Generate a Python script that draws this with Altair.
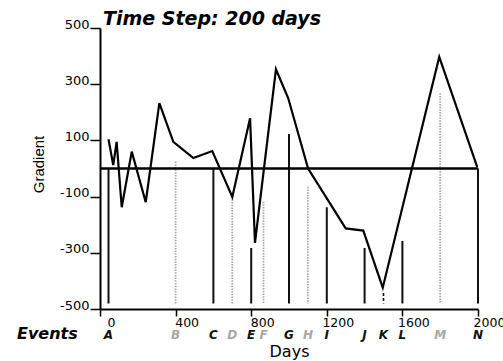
import altair as alt
import pandas as pd

# Gradient curve: day of observation and gradient value
series_days = [45, 70, 88, 115, 168, 242, 314, 388, 494, 594, 700, 794, 820,
               931, 996, 1101, 1300, 1393, 1496, 1795, 1996]
series_grad = [104, 12, 95, -138, 60, -120, 233, 95, 37, 62, -101, 179, -265,
               353, 250, 0, -213, -221, -424, 397, 5]

# Events: name, day, upper end of the marker line and event kind
event_names = ["A", "B", "C", "D", "E", "F", "G", "H", "I", "J", "K", "L", "M", "N"]
event_days = [45, 400, 600, 700, 800, 865, 1000, 1100, 1200, 1400, 1500, 1600, 1800, 2000]
event_tops = [0, 25, 0, -100, -283, -118, 123, -65, -138, -283, -443, -258, 268, 0]
event_kind = ["confirmed", "tentative", "confirmed", "tentative", "confirmed",
              "tentative", "confirmed", "tentative", "confirmed", "confirmed",
              "partial", "confirmed", "tentative", "confirmed"]
event_floor = -480

# Axis tick positions
x_ticks = list(range(0, 2001, 100))
y_ticks = list(range(-500, 501, 50))

series = pd.DataFrame({"day": series_days, "gradient": series_grad})
events = pd.DataFrame({
    "name": event_names,
    "day": event_days,
    "top": event_tops,
    "floor": [event_floor] * len(event_names),
    "kind": event_kind,
})
single = pd.DataFrame({"row": [0]})

x_scale = alt.Scale(domain=[0, 2000], nice=False, zero=False)
y_scale = alt.Scale(domain=[-500, 500], nice=False, zero=False)

kinds = ["confirmed", "tentative", "partial"]
kind_color = alt.Scale(domain=kinds, range=["#111111", "#a8a8a8", "#111111"])
kind_dash = alt.Scale(domain=kinds, range=[[1, 0], [1.5, 1.2], [3, 2]])
kind_width = alt.Scale(domain=kinds, range=[2, 1.6, 2])

x_axis = alt.Axis(
    values=x_ticks,
    labelExpr="datum.value % 400 == 0 ? '' + datum.value : ''",
    tickSize={"condition": {"test": "datum.value % 400 == 0", "value": 7}, "value": 3},
    labelOffset=11,
    labelPadding=0,
    labelFlush=False,
    labelOverlap=False,
    labelFont="DejaVu Sans",
    labelFontSize=12.5,
    labelColor="#000000",
    title="Days",
    titleFont="DejaVu Sans",
    titleFontSize=16,
    titleFontWeight="normal",
    titleColor="#000000",
    titleX=189,
    titleY=47,
    titleBaseline="alphabetic",
    titleAlign="center",
    grid=False,
)

y_axis = alt.Axis(
    values=y_ticks,
    labelExpr="abs(datum.value) % 200 == 100 ? '' + datum.value : ''",
    tickSize={"condition": {"test": "abs(datum.value) % 200 == 100", "value": 10}, "value": 4},
    labelPadding=1,
    labelBaseline="alphabetic",
    labelOverlap=False,
    labelFlush=False,
    labelFont="DejaVu Sans",
    labelFontSize=13,
    labelColor="#000000",
    title="Gradient",
    titleFont="Liberation Sans",
    titleFontSize=15,
    titleFontWeight="normal",
    titleColor="#000000",
    titleAngle=-90,
    titleX=-57,
    titleY=136,
    titleAlign="center",
    titleBaseline="alphabetic",
    grid=False,
)

# Event marker lines
event_lines = alt.Chart(events).mark_rule().encode(
    x=alt.X("day:Q", scale=x_scale, axis=x_axis),
    y=alt.Y("top:Q", scale=y_scale, axis=y_axis),
    y2="floor:Q",
    color=alt.Color("kind:N", scale=kind_color, legend=None),
    strokeDash=alt.StrokeDash("kind:N", scale=kind_dash, legend=None),
    size=alt.Size("kind:N", scale=kind_width, legend=None),
)

# Zero reference line
zero_line = alt.Chart(single).mark_rule(color="#000000", strokeWidth=2.5).encode(
    y=alt.datum(0, scale=y_scale)
)

# Gradient curve
curve = alt.Chart(series).mark_line(color="#000000", strokeWidth=2.2, strokeJoin="miter").encode(
    x=alt.X("day:Q", scale=x_scale, axis=x_axis),
    y=alt.Y("gradient:Q", scale=y_scale, axis=y_axis),
    order="day:Q",
)

# Event letters below the axis
event_labels = alt.Chart(events).mark_text(
    font="DejaVu Sans", fontSize=12, fontWeight="bold", fontStyle="italic",
    baseline="alphabetic", align="center",
).encode(
    x=alt.X("day:Q", scale=x_scale),
    y=alt.value(311),
    text="name:N",
    color=alt.Color("kind:N", scale=kind_color, legend=None),
)

events_caption = alt.Chart(single).mark_text(
    text="Events", font="DejaVu Sans", fontSize=16, fontWeight="bold",
    fontStyle="italic", align="left", baseline="alphabetic", color="#000000",
).encode(x=alt.value(-83), y=alt.value(311))

title_text = alt.Chart(single).mark_text(
    text="Time Step: 200 days", font="DejaVu Sans", fontSize=19, fontWeight="bold",
    fontStyle="italic", align="left", baseline="alphabetic", color="#000000",
).encode(x=alt.value(3), y=alt.value(-3))

chart = alt.layer(
    event_lines, zero_line, curve, event_labels, events_caption, title_text
).properties(
    width=378,
    height=281,
    autosize=alt.AutoSizeParams(type="none"),
    padding={"left": 100, "top": 28, "right": 25, "bottom": 52},
    background="#ffffff",
).configure_view(
    stroke=None
).configure_axis(
    domainColor="#000000",
    domainWidth=2,
    tickColor="#000000",
    tickWidth=1.5,
)

chart.save("out.html", embed_options={"renderer": "svg", "actions": False})
